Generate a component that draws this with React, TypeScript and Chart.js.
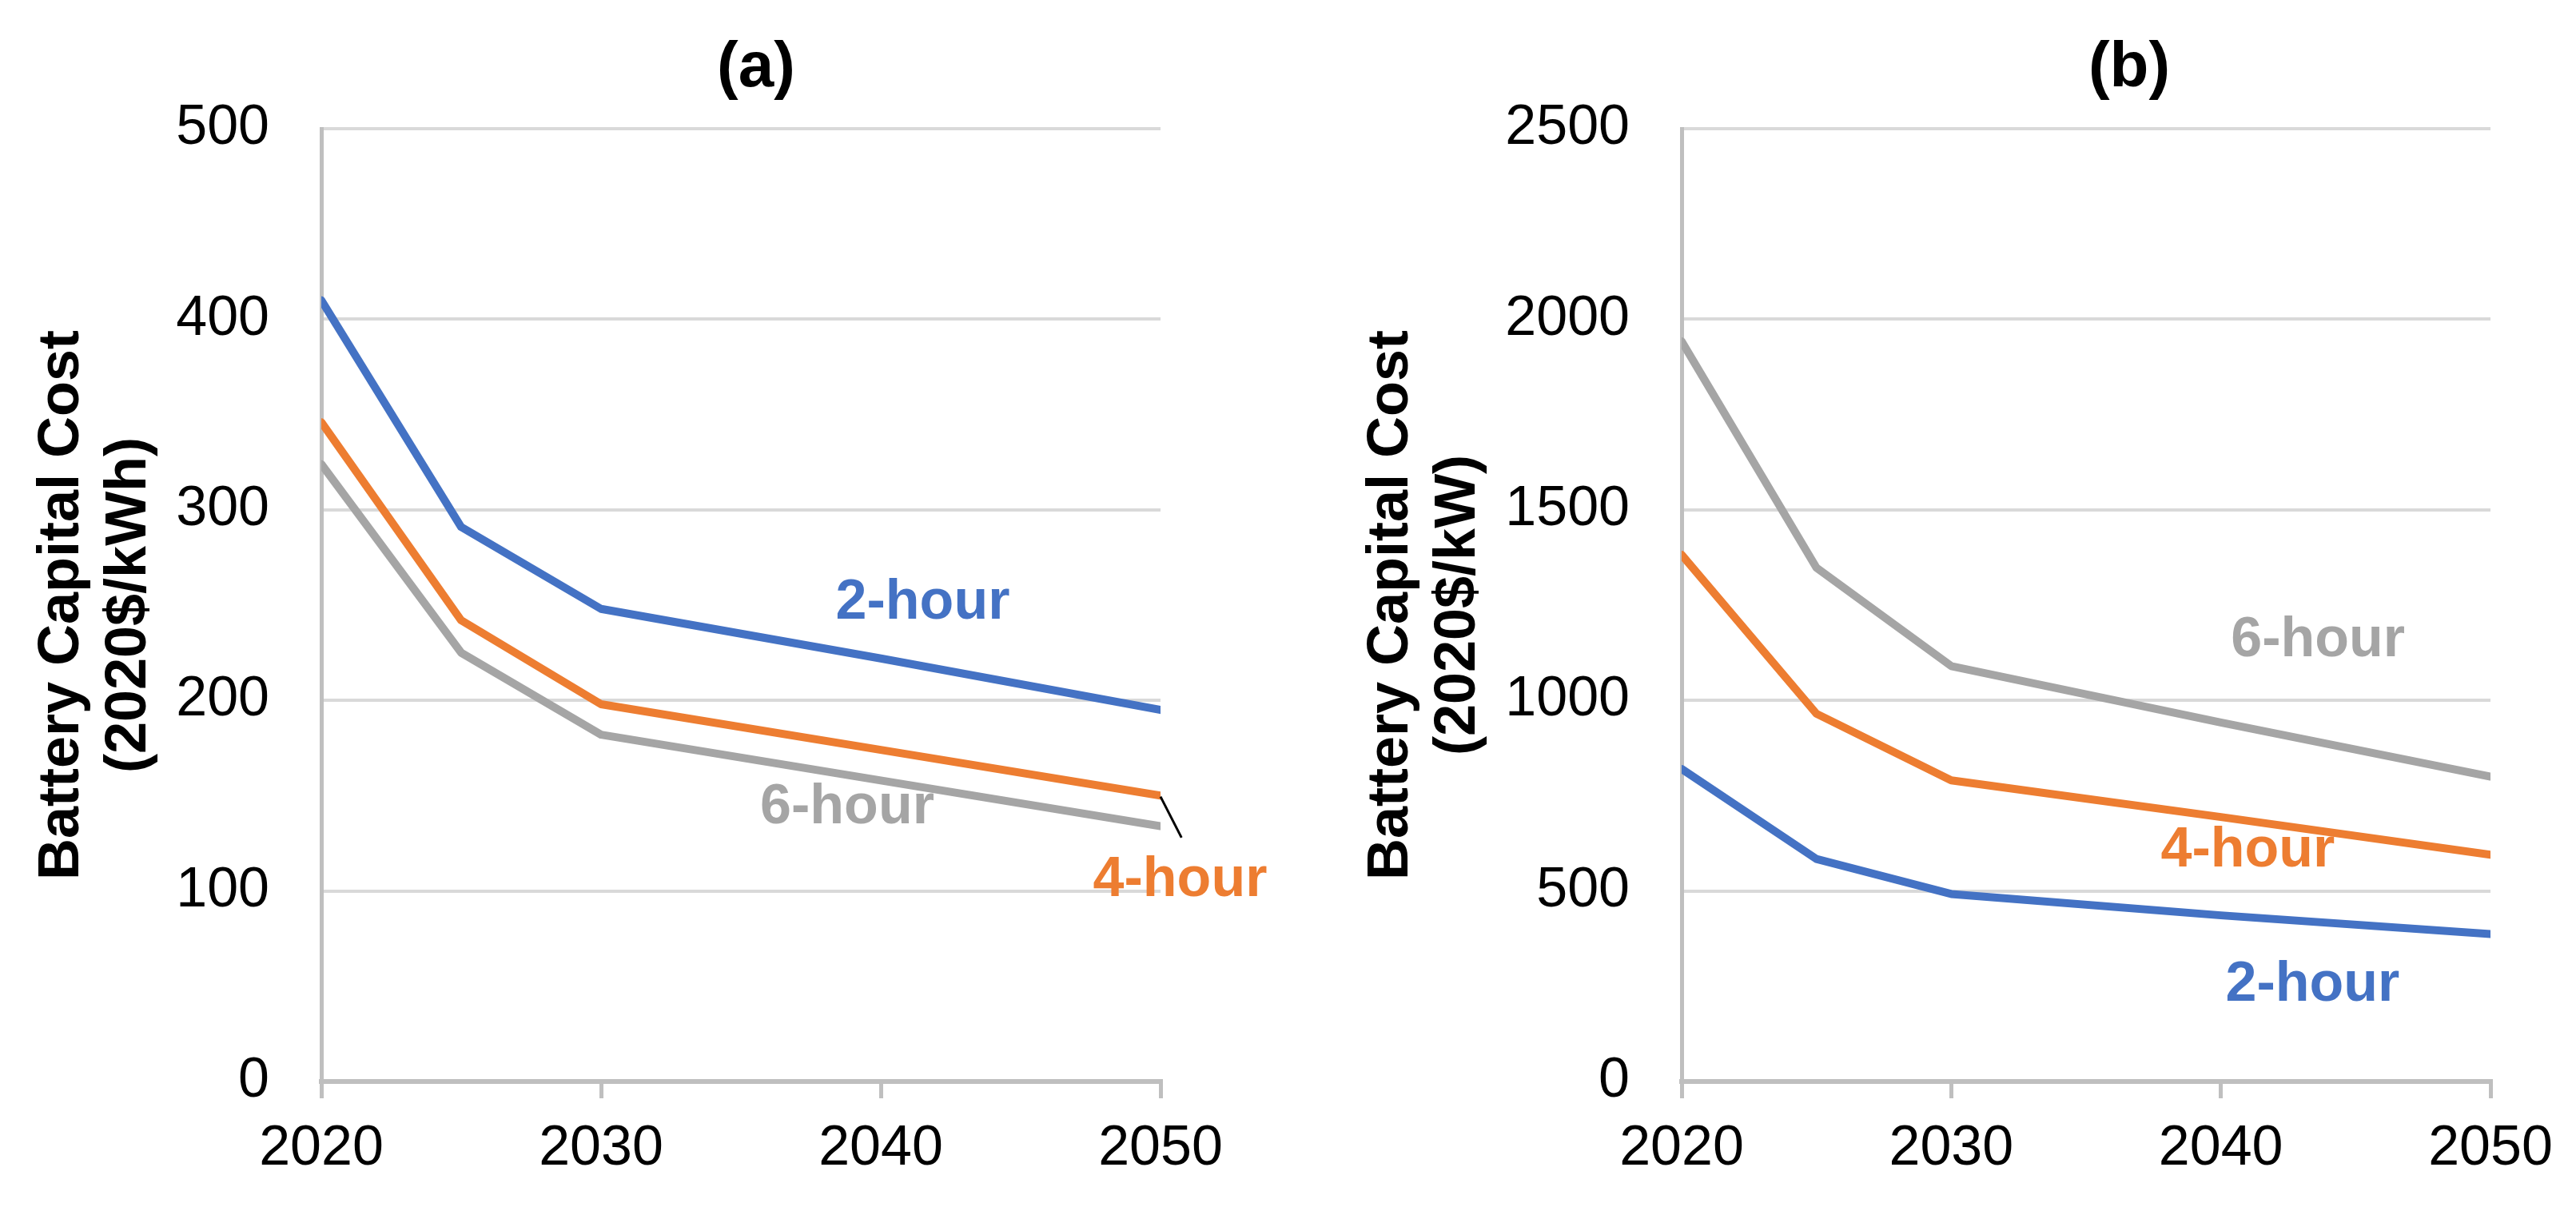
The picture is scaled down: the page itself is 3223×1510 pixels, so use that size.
import React, { useEffect, useRef } from 'react';
import { Chart, registerables } from 'chart.js';

Chart.register(...registerables);

// ---------- data ----------
const years = [2020, 2025, 2030, 2040, 2050];
// (a) energy-based cost, 2020$/kWh
const energyCost2h = [410, 291, 248, 222, 195];
const energyCost4h = [346, 242, 198, 174, 150];
const energyCost6h = [324, 225, 182, 158, 134];
// (b) power-based cost, 2020$/kW
const powerCost2h = [820, 584, 492, 436, 387];
const powerCost4h = [1382, 965, 790, 694, 595];
const powerCost6h = [1942, 1348, 1090, 942, 800];

const xTickValues = [2020, 2030, 2040, 2050];
const energyTickValues = [0, 100, 200, 300, 400, 500];
const powerTickValues = [0, 500, 1000, 1500, 2000, 2500];

const seriesNames = ['2-hour', '4-hour', '6-hour'];

// ---------- styles ----------
const FONT = "'Liberation Sans', Arial, Helvetica, sans-serif";
const BLUE = '#4472C4';
const ORANGE = '#ED7D31';
const GRAY = '#A5A5A5';
const H = 1510;

const overlayPlugin = {
  id: 'overlay',
  afterDatasetsDraw(chart: any, _args: any, opts: any) {
    const { ctx, chartArea } = chart;
    const xs = chart.scales.x;
    const ys = chart.scales.y;
    ctx.save();
    for (const l of opts.leaders || []) {
      ctx.beginPath();
      ctx.strokeStyle = '#000';
      ctx.lineWidth = 3;
      ctx.moveTo(xs.getPixelForValue(l.x1), ys.getPixelForValue(l.y1));
      ctx.lineTo(xs.getPixelForValue(l.x2), ys.getPixelForValue(l.y2));
      ctx.stroke();
    }
    ctx.font = `bold 70px ${FONT}`;
    ctx.textAlign = 'center';
    ctx.textBaseline = 'middle';
    for (const lab of opts.labels || []) {
      ctx.fillStyle = lab.color;
      ctx.fillText(lab.text, xs.getPixelForValue(lab.x), ys.getPixelForValue(lab.y));
    }
    ctx.font = `bold 80px ${FONT}`;
    ctx.fillStyle = '#000';
    const cx = (chartArea.left + chartArea.right) / 2 + opts.titleShift;
    ctx.fillText(opts.title, cx, opts.titleY);
    ctx.restore();
  },
};

function toPoints(vals: number[]) {
  return years.map((yr, i) => ({ x: yr, y: vals[i] }));
}

function lineDataset(label: string, vals: number[], color: string) {
  return {
    label,
    data: toPoints(vals),
    borderColor: color,
    backgroundColor: color,
    borderWidth: 10,
    borderCapStyle: 'round',
    borderJoinStyle: 'round',
    pointRadius: 0,
    tension: 0,
    fill: false,
  };
}

function makeConfig(p: any) {
  return {
    type: 'line',
    data: {
      datasets: [
        lineDataset(seriesNames[2], p.s6, GRAY),
        lineDataset(seriesNames[1], p.s4, ORANGE),
        lineDataset(seriesNames[0], p.s2, BLUE),
      ],
    },
    plugins: [overlayPlugin],
    options: {
      animation: false,
      responsive: false,
      events: [],
      layout: { padding: { top: 161, right: p.rightPad, left: 0, bottom: 0 } },
      plugins: {
        legend: { display: false },
        tooltip: { enabled: false },
        title: { display: false },
        overlay: {
          labels: p.labels,
          leaders: p.leaders,
          title: p.title,
          titleShift: p.titleShift,
          titleY: 86,
        },
      },
      scales: {
        x: {
          type: 'linear',
          min: 2020,
          max: 2050,
          afterBuildTicks: (scale: any) => {
            scale.ticks = xTickValues.map((v) => ({ value: v }));
          },
          afterFit: (scale: any) => {
            scale.height = H - 1353;
          },
          ticks: {
            color: '#000',
            font: { family: FONT, size: 70 },
            padding: 22,
            maxRotation: 0,
            autoSkip: false,
            callback: (v: any) => String(v),
          },
          grid: {
            drawOnChartArea: false,
            drawTicks: true,
            tickLength: 21,
            color: '#BFBFBF',
            lineWidth: 5,
          },
          border: { display: true, color: '#BFBFBF', width: 6 },
        },
        y: {
          type: 'linear',
          min: 0,
          max: p.yMax,
          afterBuildTicks: (scale: any) => {
            scale.ticks = p.yTicks.map((v: number) => ({ value: v }));
          },
          afterFit: (scale: any) => {
            scale.width = p.axisLeft;
          },
          ticks: {
            color: '#000',
            font: { family: FONT, size: 70 },
            padding: 65,
            callback: (v: any) => String(v),
          },
          grid: {
            drawTicks: false,
            lineWidth: 4,
            color: (c: any) => (c.tick && c.tick.value === 0 ? 'rgba(0,0,0,0)' : '#D9D9D9'),
          },
          border: { display: true, color: '#BFBFBF', width: 5 },
          title: {
            display: true,
            text: ['Battery Capital Cost', p.unit],
            color: '#000',
            font: { family: FONT, size: 72, weight: 'bold', lineHeight: 1.167 },
            padding: { top: p.yTitlePad, bottom: 0 },
          },
        },
      },
    },
  };
}

const panelA = {
  s2: energyCost2h,
  s4: energyCost4h,
  s6: energyCost6h,
  yMax: 500,
  yTicks: energyTickValues,
  unit: '(2020$/kWh)',
  axisLeft: 402,
  rightPad: 160,
  yTitlePad: 36,
  title: '(a)',
  titleShift: 19,
  labels: [
    { text: '2-hour', x: 2041.5, y: 251, color: BLUE },
    { text: '6-hour', x: 2038.8, y: 143.5, color: GRAY },
    { text: '4-hour', x: 2050.7, y: 105.5, color: ORANGE },
  ],
  leaders: [{ x1: 2050, y1: 149.5, x2: 2050.75, y2: 128 }],
};

const panelB = {
  s2: powerCost2h,
  s4: powerCost4h,
  s6: powerCost6h,
  yMax: 2500,
  yTicks: powerTickValues,
  unit: '(2020$/kW)',
  axisLeft: 492,
  rightPad: 107,
  yTitlePad: 87,
  title: '(b)',
  titleShift: 54,
  labels: [
    { text: '6-hour', x: 2043.6, y: 1156, color: GRAY },
    { text: '4-hour', x: 2041.0, y: 604, color: ORANGE },
    { text: '2-hour', x: 2043.4, y: 252, color: BLUE },
  ],
  leaders: [],
};

function Panel({ p, left, width }: { p: any; left: number; width: number }) {
  const ref = useRef<HTMLCanvasElement>(null);
  useEffect(() => {
    const chart = new Chart(ref.current as HTMLCanvasElement, makeConfig(p) as any);
    return () => chart.destroy();
  }, []);
  return (
    <canvas
      ref={ref}
      width={width}
      height={H}
      style={{ position: 'absolute', left, top: 0, width, height: H, display: 'block' }}
    />
  );
}

export default function App() {
  return (
    <div
      style={{
        position: 'absolute',
        left: 0,
        top: 0,
        width: 3223,
        height: H,
        background: '#fff',
        overflow: 'hidden',
      }}
    >
      <Panel p={panelA} left={0} width={1612} />
      <Panel p={panelB} left={1612} width={1611} />
    </div>
  );
}
